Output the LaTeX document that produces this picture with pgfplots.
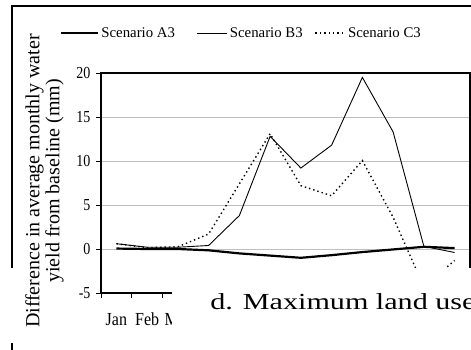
\documentclass[border=0pt]{standalone}
\usepackage{fontspec}
\setmainfont{Liberation Serif}
\usepackage{pgfplots}
\pgfplotsset{compat=1.18}
\pgfplotsset{
  legA/.style={legend image code/.code={\draw[##1] (0pt,0pt) -- (37pt,0pt);}},
  legB/.style={legend image code/.code={\draw[##1] (0pt,0pt) -- (30pt,0pt);}},
}
\begin{document}
\begin{tikzpicture}[x=1pt,y=1pt]
\useasboundingbox (0,0) rectangle (471,350);
\clip (0,0) rectangle (471,350);
\begin{axis}[
  at={(101pt,57pt)}, anchor=south west,
  scale only axis, width=369pt, height=220pt,
  xmin=0.5, xmax=12.5, ymin=-5, ymax=20,
  xtick={1,...,12},
  xticklabels={Jan,Feb,Mar,{},{},{},{},{},{},{},{},{}},
  minor xtick={0.5,1.5,...,12.5},
  major x tick style={draw=none},
  minor tick length=5pt, major tick length=5pt,
  tick align=outside,
  xtick pos=bottom, ytick pos=left,
  ytick={-5,0,5,10,15,20},
  yticklabels={-5,0,5,10,15,20},
  tick style={black, line width=0.8pt},
  ymajorgrids, grid style={color=black!25, line width=0.9pt},
  axis line style={black, line width=1.1pt},
  yticklabel style={font=\fontsize{14}{16}\selectfont, yscale=1.2, anchor=east, xshift=-2pt},
  xticklabel style={font=\fontsize{16}{18}\selectfont, yscale=1.15, anchor=base, yshift=-24pt},
  ylabel={Difference in average monthly water\\yield from baseline (mm)},
  ylabel style={align=center, font=\fontsize{20}{20}\selectfont, at={(axis description cs:-0.153,0.509)}, anchor=center},
  legend style={at={(-0.111,1.182)}, anchor=west, draw=none, fill=none, inner sep=0pt,
    font=\fontsize{14.8}{17}\selectfont,
    /tikz/column 2/.style={column sep=20pt},
    /tikz/column 4/.style={column sep=10pt}},
  legend columns=3,
]
\addplot[black, line width=2.2pt, legA] coordinates {
  (1,0.05) (2,0.0) (3,0.0) (4,-0.15) (5,-0.5) (6,-0.75) (7,-1.0) (8,-0.7) (9,-0.35) (10,-0.05) (11,0.25) (12,0.1)};
\addplot[black, line width=0.9pt, legB] coordinates {
  (1,0.6) (2,0.2) (3,0.2) (4,0.4) (5,3.8) (6,12.8) (7,9.2) (8,11.8) (9,19.5) (10,13.3) (11,0.3) (12,-0.4)};
\addplot[black, line width=1.4pt, dash pattern=on 1.4pt off 3pt, legB] coordinates {
  (1,0.6) (2,0.15) (3,0.25) (4,1.7) (5,7.4) (6,13.1) (7,7.2) (8,6.05) (9,10.05) (10,3.6) (11,-4.3) (12,-1.3)};
\legend{Scenario A3, Scenario B3, Scenario C3}
\draw[black, line width=2pt] (axis cs:0.5,-5) -- (axis cs:12.5,-5);
\end{axis}
\fill[white] (172,0) rectangle (471,82);
\node[anchor=base west, font=\fontsize{23}{28}\selectfont, inner sep=0pt, xscale=1.31] at (210,40.7) {d. Maximum land use};
\draw[line width=1.2pt] (12,82) -- (12,344) -- (471,344);
\draw[line width=1.2pt] (12,0) -- (12,7);
\end{tikzpicture}
\end{document}
